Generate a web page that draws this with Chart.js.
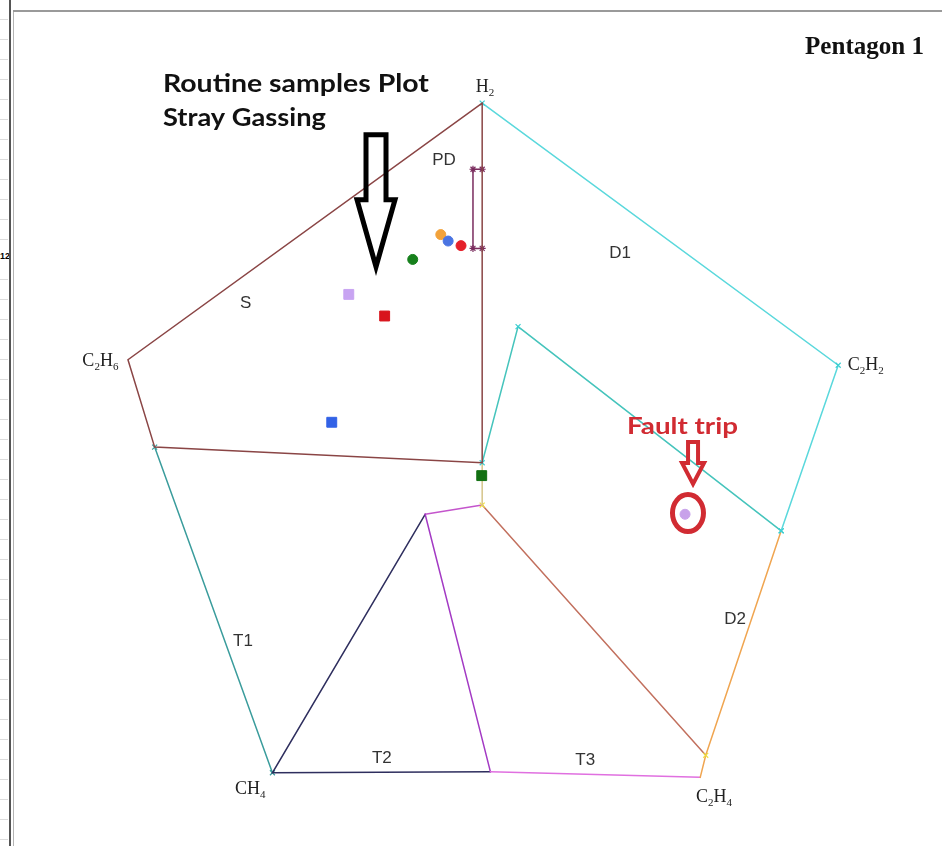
<!DOCTYPE html>
<html>
<head>
<meta charset="utf-8">
<title>Pentagon 1</title>
<script src="https://cdn.jsdelivr.net/npm/chart.js@4.4.1/dist/chart.umd.min.js"></script>
<style>
  html, body { margin: 0; padding: 0; background: #fff; }
  body { width: 942px; height: 846px; overflow: hidden; position: relative; }
  #rows { position: absolute; left: 0; top: 0; width: 8px; height: 846px;
          background: repeating-linear-gradient(to bottom, #fff 0, #fff 19px, #dcdcdc 19px, #dcdcdc 20px); }
  #rowNum { position: absolute; left: 0; top: 251px; width: 9px; overflow: hidden; background: #fff;
            font: bold 9px "Liberation Sans", Arial, sans-serif; color: #000; line-height: 10px; }
  #edgeDark { position: absolute; left: 9px; top: 0; width: 2px; height: 846px; background: #555; }
  #edgeLight { position: absolute; left: 13px; top: 10px; width: 1px; height: 836px; background: #b4b4b4; }
  #edgeTop { position: absolute; left: 13px; top: 10px; right: 0; height: 2px; background: #9a9a9a; }
  #c { position: absolute; left: 0; top: 0; }
</style>
</head>
<body>
<div id="rows"></div>
<div id="rowNum">12</div>
<div id="edgeDark"></div>
<div id="edgeLight"></div>
<div id="edgeTop"></div>
<canvas id="c" width="942" height="846"></canvas>
<script>
// Duval Pentagon 1 – gas-ratio plot with zone boundaries and sample points.

// Pentagon corners (gas vertices)
const vertexNames = ['H2', 'C2H6', 'CH4', 'C2H4', 'C2H2'];
const vertexX = [-0.2, -38.7, -23.0, 23.5, 38.5];
const vertexY = [40.0, 12.1, -32.8, -33.3, 11.5];
const vertexLabelX = [0.1, -41.7, -25.4, 25.0, 41.5];
const vertexLabelY = [41.8, 12.1, -34.5, -35.3, 11.6];

// Zone boundary polylines
const sZoneX = [-0.2, -38.7, -35.8, -0.2, -0.2];
const sZoneY = [40.0, 12.1, 2.6, 0.9, 40.0];
const pdZoneX = [-0.2, -1.2, -1.2, -0.2];
const pdZoneY = [32.8, 32.8, 24.2, 24.2];
const d1OuterX = [-0.2, 38.5, 32.3];
const d1OuterY = [40.0, 11.5, -6.5];
const d1InnerX = [32.3, 3.7, -0.2];
const d1InnerY = [-6.5, 15.7, 0.9];
const centreLinkX = [-0.2, -0.2];
const centreLinkY = [0.9, -3.7];
const d2T3X = [-0.2, 24.1];
const d2T3Y = [-3.7, -30.9];
const d2OuterX = [32.3, 24.1, 23.5];
const d2OuterY = [-6.5, -30.9, -33.3];
const t3BaseX = [23.5, 0.7];
const t3BaseY = [-33.3, -32.7];
const t2T3X = [0.7, -6.4];
const t2T3Y = [-32.7, -4.7];
const t3TopX = [-6.4, -0.2];
const t3TopY = [-4.7, -3.7];
const t2X = [-6.4, -23.0, 0.7];
const t2Y = [-4.7, -32.8, -32.7];
const t1X = [-35.8, -23.0];
const t1Y = [2.6, -32.8];

// Zone names
const zoneLabels = ['PD', 'D1', 'S', 'T1', 'T2', 'T3', 'D2'];
const zoneLabelX = [-4.35, 14.8, -25.9, -26.2, -11.1, 11.0, 27.3];
const zoneLabelY = [33.8, 23.7, 18.2, -18.5, -31.2, -31.5, -16.1];

// Routine samples
const routineX = [-4.7, -3.9, -2.5, -7.75, -14.7, -10.8, -16.55, -0.25];
const routineY = [25.7, 25.0, 24.5, 23.0, 19.2, 16.85, 5.3, -0.5];
const routineColors = ['#f2a23a', '#4a74e2', '#e5202a', '#16801c', '#c8a4f2', '#d8141c', '#3262e6', '#137013'];
const routineShapes = ['circle', 'circle', 'circle', 'circle', 'rect', 'rect', 'rect', 'rect'];

// Fault trip sample
const faultX = [21.85];
const faultY = [-4.7];

const toPoints = (xs, ys) => xs.map((x, i) => ({ x: x, y: ys[i] }));

function boundary(xs, ys, color, marker, markerColor) {
  return {
    data: toPoints(xs, ys),
    showLine: true,
    borderColor: color,
    borderWidth: 1.5,
    pointRadius: marker ? 3.5 : 0,
    pointStyle: marker || 'circle',
    pointBorderColor: markerColor || color,
    pointBackgroundColor: markerColor || color,
    pointBorderWidth: 1.2,
    fill: false,
    tension: 0,
    order: 2
  };
}

const datasets = [
  boundary(sZoneX, sZoneY, '#8a4545'),
  boundary(pdZoneX, pdZoneY, '#7a2c5e', 'star', '#7a2c5e'),
  boundary(d1OuterX, d1OuterY, '#5ad8dc', 'crossRot', '#3ccfd2'),
  boundary(d1InnerX, d1InnerY, '#45c4bc', 'crossRot', '#3ccfd2'),
  boundary(centreLinkX, centreLinkY, '#d6c48a'),
  boundary(d2T3X, d2T3Y, '#c2705e', 'crossRot', '#f0e040'),
  boundary(d2OuterX, d2OuterY, '#f0a550'),
  boundary(t3BaseX, t3BaseY, '#e070e0'),
  boundary(t2T3X, t2T3Y, '#a33ac4'),
  boundary(t3TopX, t3TopY, '#c455cc'),
  boundary(t2X, t2Y, '#2e2e5e'),
  boundary(t1X, t1Y, '#3a9c9c', 'crossRot', '#3a9c9c'),
  {
    data: toPoints(routineX, routineY),
    showLine: false,
    pointStyle: routineShapes,
    pointRadius: routineShapes.map(s => s === 'rect' ? 7 : 5),
    pointBackgroundColor: routineColors,
    pointBorderColor: routineColors,
    pointBorderWidth: 1,
    order: 0
  },
  {
    data: toPoints(faultX, faultY),
    showLine: false,
    pointStyle: 'circle',
    pointRadius: 5,
    pointBackgroundColor: '#c8a2ea',
    pointBorderColor: '#c8a2ea',
    order: 0
  }
];

// Callouts placed in data units, shape sizes in pixels
const callouts = {
  title: { text: 'Pentagon 1', x: 47.83, y: 45.3, width: 119, font: 'bold 25px "Liberation Serif", serif', color: '#111' },
  notes: [
    { text: 'Routine samples Plot', x: -34.9, y: 41.2, width: 266, font: 'bold 24px Lato, "Open Sans", sans-serif', color: '#111' },
    { text: 'Stray Gassing', x: -34.9, y: 37.5, width: 163, font: 'bold 24px Lato, "Open Sans", sans-serif', color: '#111' },
    { text: 'Fault trip', x: 15.54, y: 4.0, width: 111, font: 'bold 23px Lato, "Open Sans", sans-serif', color: '#d12b32' }
  ],
  arrows: [
    { x: -11.74, y: 22.2, shaftHalf: 10, headHalf: 19, headLen: 67, length: 132, color: '#000', lineWidth: 5 },
    { x: 22.72, y: -1.4, shaftHalf: 5, headHalf: 11, headLen: 21, length: 42, color: '#d12b32', lineWidth: 4 }
  ],
  ring: { x: 22.17, y: -4.57, rx: 15.5, ry: 18.5, color: '#d12b32', lineWidth: 5 }
};

function fillFitted(ctx, text, x, y, width, align) {
  const w = ctx.measureText(text).width;
  const k = width / w;
  ctx.save();
  ctx.translate(align === 'right' ? x - width : x, y);
  ctx.scale(k, 1);
  ctx.textAlign = 'left';
  ctx.fillText(text, 0, 0);
  ctx.restore();
}

function drawFormula(ctx, formula, cx, cy, size) {
  const parts = formula.match(/[A-Z][a-z]?|\d+/g);
  const big = size + 'px "Liberation Serif", serif';
  const small = Math.round(size * 0.6) + 'px "Liberation Serif", serif';
  let total = 0;
  const widths = parts.map(p => {
    ctx.font = /\d/.test(p) ? small : big;
    const w = ctx.measureText(p).width;
    total += w;
    return w;
  });
  let x = cx - total / 2;
  const base = cy + size * 0.33;
  ctx.textAlign = 'left';
  ctx.textBaseline = 'alphabetic';
  parts.forEach((p, i) => {
    const sub = /\d/.test(p);
    ctx.font = sub ? small : big;
    ctx.fillText(p, x, sub ? base + size * 0.22 : base);
    x += widths[i];
  });
}

const labelPlugin = {
  id: 'pentagonLabels',
  afterDatasetsDraw(chart) {
    const ctx = chart.ctx;
    const sx = chart.scales.x, sy = chart.scales.y;
    const px = v => sx.getPixelForValue(v);
    const py = v => sy.getPixelForValue(v);
    ctx.save();

    // zone names
    ctx.fillStyle = '#333';
    ctx.font = '17px "Liberation Sans", Arial, sans-serif';
    ctx.textAlign = 'center';
    ctx.textBaseline = 'middle';
    zoneLabels.forEach((t, i) => ctx.fillText(t, px(zoneLabelX[i]), py(zoneLabelY[i])));

    // gas vertex names
    ctx.fillStyle = '#222';
    vertexNames.forEach((t, i) => drawFormula(ctx, t, px(vertexLabelX[i]), py(vertexLabelY[i]), 18));

    // title and notes
    ctx.textBaseline = 'alphabetic';
    const t = callouts.title;
    ctx.font = t.font; ctx.fillStyle = t.color;
    fillFitted(ctx, t.text, px(t.x), py(t.y), t.width, 'right');
    callouts.notes.forEach(n => {
      ctx.font = n.font; ctx.fillStyle = n.color;
      fillFitted(ctx, n.text, px(n.x), py(n.y), n.width, 'left');
    });

    // hollow arrows pointing down
    callouts.arrows.forEach(a => {
      const tx = px(a.x), ty = py(a.y);
      ctx.beginPath();
      ctx.moveTo(tx - a.shaftHalf, ty - a.length);
      ctx.lineTo(tx + a.shaftHalf, ty - a.length);
      ctx.lineTo(tx + a.shaftHalf, ty - a.headLen);
      ctx.lineTo(tx + a.headHalf, ty - a.headLen);
      ctx.lineTo(tx, ty);
      ctx.lineTo(tx - a.headHalf, ty - a.headLen);
      ctx.lineTo(tx - a.shaftHalf, ty - a.headLen);
      ctx.closePath();
      ctx.lineWidth = a.lineWidth;
      ctx.lineJoin = 'miter';
      ctx.strokeStyle = a.color;
      ctx.stroke();
    });

    // ring around the fault sample
    const r = callouts.ring;
    ctx.beginPath();
    ctx.ellipse(px(r.x), py(r.y), r.rx, r.ry, 0, 0, Math.PI * 2);
    ctx.lineWidth = r.lineWidth;
    ctx.strokeStyle = r.color;
    ctx.stroke();

    ctx.restore();
  }
};

new Chart(document.getElementById('c'), {
  type: 'scatter',
  data: { datasets: datasets },
  options: {
    responsive: false,
    animation: false,
    devicePixelRatio: 1,
    layout: { padding: 0, autoPadding: false },
    plugins: { legend: { display: false }, tooltip: { enabled: false } },
    scales: {
      x: { type: 'linear', display: false, min: -52.61, max: 49.78 },
      y: { type: 'linear', display: false, min: -40.76, max: 51.2 }
    },
    elements: { line: { borderCapStyle: 'round' } }
  },
  plugins: [labelPlugin]
});
</script>
</body>
</html>
